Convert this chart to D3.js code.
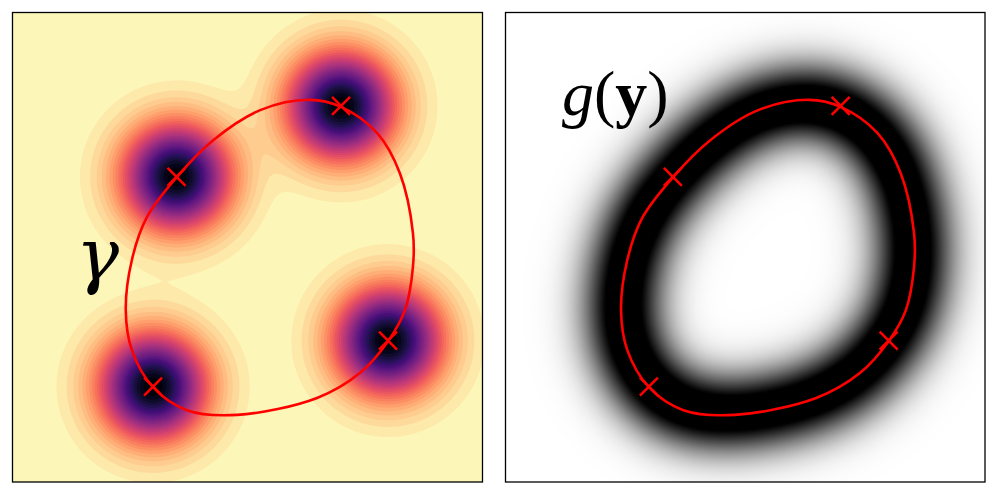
<!DOCTYPE html>
<html>
<head>
<meta charset="utf-8">
<script src="https://cdn.jsdelivr.net/npm/d3@7"></script>
<style>
  body { margin: 0; background: #fff; }
  svg { display: block; }
</style>
</head>
<body>
<div id="chart"></div>
<script>
// points the closed curve passes through (unit square, y up)
var curveX = [0.633, 0.699, 0.776, 0.824, 0.852, 0.852, 0.835, 0.799, 0.739, 0.648,
              0.478, 0.371, 0.299, 0.254, 0.241, 0.254, 0.286, 0.350, 0.427, 0.527];
var curveY = [0.814, 0.799, 0.743, 0.658, 0.530, 0.458, 0.366, 0.300, 0.232, 0.179,
              0.143, 0.153, 0.202, 0.281, 0.366, 0.473, 0.564, 0.650, 0.728, 0.792];

// the four marked points (blob centres)
var markX = [0.349, 0.699, 0.799, 0.299];
var markY = [0.650, 0.801, 0.301, 0.203];
var blobAmp = [1, 1, 1, 1];
var blobSigma = 0.078;
var nLevels = 32;

// width of the blurred curve on the right, and its saturation
var bandSigma = 0.058;
var bandGain = 1.22;

var W = 998, H = 495;
var svg = d3.select("#chart").append("svg")
    .attr("width", W)
    .attr("height", H);

var xL = d3.scaleLinear().domain([0, 1]).range([12.5, 482.5]);
var xR = d3.scaleLinear().domain([0, 1]).range([505.5, 985]);
var y = d3.scaleLinear().domain([0, 1]).range([482, 12.5]);

var pts = curveX.map(function(d, i) { return [d, curveY[i]]; });

// ---------- left panel: sum of gaussians, filled contours ----------
var nx = 235, ny = 235;
var values = new Float64Array(nx * ny);
for (var j = 0; j < ny; j++) {
  var yy = 1 - (j + 0.5) / ny;
  for (var i = 0; i < nx; i++) {
    var xx = (i + 0.5) / nx, v = 0;
    for (var k = 0; k < markX.length; k++) {
      var dx = xx - markX[k], dy = yy - markY[k];
      v += blobAmp[k] * Math.exp(-(dx * dx + dy * dy) / (2 * blobSigma * blobSigma));
    }
    values[i + j * nx] = v;
  }
}
var vmax = d3.max(values);
var levels = d3.range(1, nLevels).map(function(k) { return k * vmax / nLevels; });
var bandColor = function(k) { return d3.interpolateMagma(1 - (k + 0.5) / nLevels); };

var gL = svg.append("g");
gL.append("rect")
    .attr("x", xL(0)).attr("y", y(1))
    .attr("width", xL(1) - xL(0)).attr("height", y(0) - y(1))
    .attr("fill", bandColor(0));

var toLeft = d3.geoTransform({
  point: function(gx, gy) { this.stream.point(xL(gx / nx), y(1 - gy / ny)); }
});
var contours = d3.contours().size([nx, ny]).thresholds(levels)(values);
gL.selectAll("path.band")
  .data(contours)
  .enter().append("path")
    .attr("class", "band")
    .attr("d", d3.geoPath(toLeft))
    .attr("fill", function(d, i) { return bandColor(i + 1); });

// ---------- right panel: curve blurred with a gaussian ----------
var hidden = svg.append("path")
    .attr("d", d3.line().x(function(d) { return d[0] * 1000; }).y(function(d) { return d[1] * 1000; })
      .curve(d3.curveCatmullRomClosed.alpha(0.5))(pts))
    .attr("fill", "none").attr("stroke", "none");
var node = hidden.node(), total = node.getTotalLength();
var nS = 500, ds = total / nS / 1000;
var samp = d3.range(nS).map(function(s) {
  var p = node.getPointAtLength(s * total / nS);
  return [p.x / 1000, p.y / 1000];
});
hidden.remove();

var rw = Math.round((xR(1) - xR(0)) / 2), rh = Math.round((y(0) - y(1)) / 2);
var canvas = document.createElement("canvas");
canvas.width = rw; canvas.height = rh;
var ctx = canvas.getContext("2d");
var img = ctx.createImageData(rw, rh);
var norm = ds / (Math.sqrt(2 * Math.PI) * bandSigma), s2 = 2 * bandSigma * bandSigma;
for (var j = 0; j < rh; j++) {
  var yy = 1 - (j + 0.5) / rh;
  for (var i = 0; i < rw; i++) {
    var xx = (i + 0.5) / rw, v = 0;
    for (var k = 0; k < nS; k++) {
      var dx = xx - samp[k][0], dy = yy - samp[k][1];
      var d2 = dx * dx + dy * dy;
      if (d2 < 0.09) v += Math.exp(-d2 / s2);
    }
    v = Math.min(1, bandGain * v * norm);
    var c = Math.round(255 * (1 - v)), o = 4 * (i + j * rw);
    img.data[o] = img.data[o + 1] = img.data[o + 2] = c;
    img.data[o + 3] = 255;
  }
}
ctx.putImageData(img, 0, 0);
svg.append("image")
    .attr("x", xR(0)).attr("y", y(1))
    .attr("width", xR(1) - xR(0)).attr("height", y(0) - y(1))
    .attr("preserveAspectRatio", "none")
    .attr("href", canvas.toDataURL());

// ---------- curve, markers, labels, frames ----------
[xL, xR].forEach(function(x) {
  svg.append("path")
      .attr("d", d3.line().x(function(d) { return x(d[0]); }).y(function(d) { return y(d[1]); })
        .curve(d3.curveCatmullRomClosed.alpha(0.5))(pts))
      .attr("fill", "none")
      .attr("stroke", "#ff0000")
      .attr("stroke-width", 2.6);

  svg.selectAll(null)
    .data(markX)
    .enter().append("path")
      .attr("transform", function(d, i) { return "translate(" + x(d) + "," + y(markY[i]) + ")"; })
      .attr("d", "M-9,-9L9,9M-9,9L9,-9")
      .attr("stroke", "#ff0000")
      .attr("stroke-width", 2.6);

  svg.append("rect")
      .attr("x", x(0)).attr("y", y(1))
      .attr("width", x(1) - x(0)).attr("height", y(0) - y(1))
      .attr("fill", "none")
      .attr("stroke", "#000")
      .attr("stroke-width", 1.3);
});

svg.append("text")
    .attr("x", 76).attr("y", 280)
    .style("font-family", "'DejaVu Serif', serif")
    .style("font-style", "italic")
    .style("font-size", "72px")
    .text("γ");

var gy = svg.append("text")
    .attr("x", 562).attr("y", 115)
    .style("font-family", "'Liberation Serif', 'DejaVu Serif', serif")
    .style("font-size", "64px");
gy.append("tspan").style("font-style", "italic").text("g");
gy.append("tspan").text("(");
gy.append("tspan").style("font-weight", "bold").text("y");
gy.append("tspan").text(")");
</script>
</body>
</html>
